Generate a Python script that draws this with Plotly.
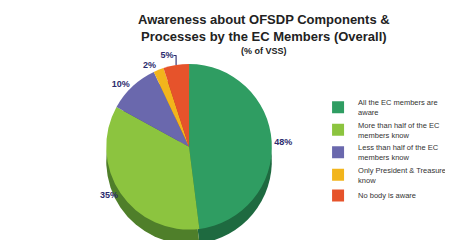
import plotly.graph_objects as go

labels = ["All the EC members are<br>aware",
          "More than half of the EC<br>members know",
          "Less than half of the EC<br>members know",
          "Only President & Treasurer<br>know",
          "No body is aware"]
values = [48, 35, 10, 2, 5]
colors = ["#2f9d62", "#8cc43f", "#6a68ad", "#f2b51c", "#e6532b"]
side_colors = ["#1e6a40", "#4f7f2a", "#45447a", "#b0831a", "#a83c1f"]

fig = go.Figure()
# darker copy underneath to hint the pie's depth
fig.add_trace(go.Pie(labels=labels, values=values, sort=False, direction="clockwise",
                     rotation=0, marker=dict(colors=side_colors, line=dict(width=0)),
                     textinfo="none", hoverinfo="skip", showlegend=False,
                     domain=dict(x=[0.0, 0.64], y=[0.0, 0.92])))
fig.add_trace(go.Pie(labels=labels, values=values, sort=False, direction="clockwise",
                     rotation=0, marker=dict(colors=colors, line=dict(width=0)),
                     texttemplate="<b>%{value}%</b>", textposition="outside",
                     outsidetextfont=dict(family="Liberation Sans", size=9, color="#2c2c6e"),
                     domain=dict(x=[0.0, 0.64], y=[0.08, 1.0])))

fig.add_annotation(text="<b>Awareness about OFSDP Components &<br>Processes by the EC Members (Overall)</b>",
                   xref="paper", yref="paper", x=0.51, y=1.0, yshift=54, xanchor="center", yanchor="top",
                   showarrow=False, font=dict(size=13, family="Liberation Sans", color="#222"))
fig.add_annotation(text="<b>(% of VSS)</b>",
                   xref="paper", yref="paper", x=0.51, y=1.0, yshift=20, xanchor="center", yanchor="top",
                   showarrow=False, font=dict(size=9, family="Liberation Sans", color="#222"))

fig.update_layout(
    width=453, height=240,
    margin=dict(l=5, r=2, t=56, b=4),
    paper_bgcolor="white", plot_bgcolor="white",
    font=dict(family="Liberation Sans", color="#222"),
    legend=dict(x=0.645, y=0.85, xanchor="left", yanchor="top",
                font=dict(size=7.5, family="Liberation Sans", color="#333"),
                itemwidth=30, tracegroupgap=4, bgcolor="rgba(0,0,0,0)"),
)
fig.write_html("out.html")
